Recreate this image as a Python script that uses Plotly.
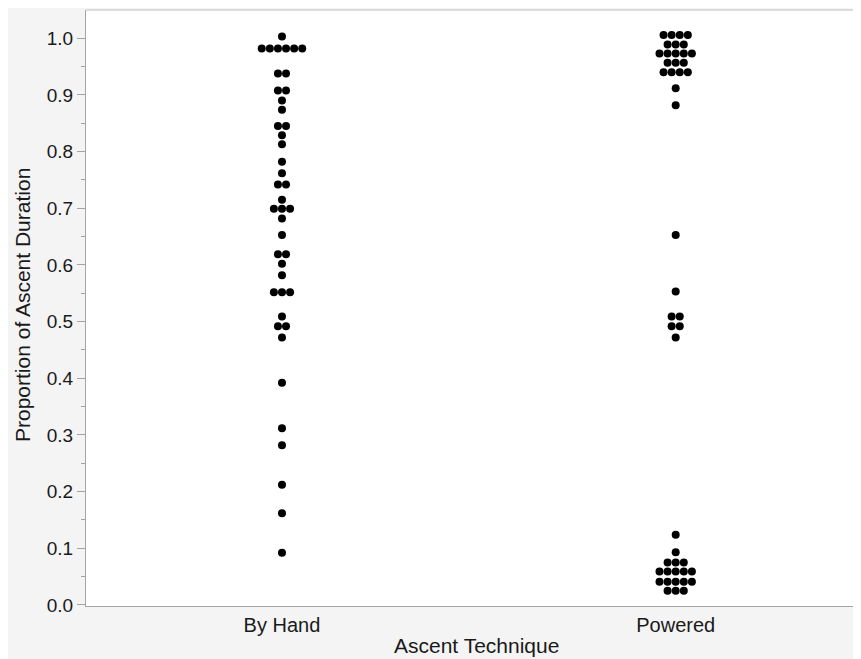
import plotly.graph_objects as go
from collections import Counter

categories = ["By Hand", "Powered"]

by_hand = [1.003,
           0.982, 0.982, 0.982, 0.982, 0.982, 0.982,
           0.938, 0.938, 0.908, 0.908, 0.890, 0.874,
           0.845, 0.845, 0.829, 0.813, 0.782, 0.762,
           0.742, 0.742, 0.715, 0.699, 0.699, 0.699, 0.682,
           0.653, 0.619, 0.619, 0.602, 0.582,
           0.552, 0.552, 0.552, 0.509, 0.492, 0.492, 0.472,
           0.392, 0.312, 0.282, 0.212, 0.162, 0.092]

powered = [1.006, 1.006, 1.006, 1.006,
           0.989, 0.989, 0.989,
           0.973, 0.973, 0.973, 0.973, 0.973,
           0.957, 0.957, 0.957,
           0.940, 0.940, 0.940, 0.940,
           0.912, 0.882, 0.653, 0.553,
           0.509, 0.509, 0.492, 0.492, 0.472,
           0.124, 0.093,
           0.075, 0.075, 0.075,
           0.059, 0.059, 0.059, 0.059, 0.059,
           0.041, 0.041, 0.041, 0.041, 0.041,
           0.025, 0.025, 0.025]

y_ticks = [0.0, 0.1, 0.2, 0.3, 0.4, 0.5, 0.6, 0.7, 0.8, 0.9, 1.0]

# layout geometry (figure pixels; the page adds an 8px body margin)
W, H = 853, 670
L, R, T = 78, 0, 2
ph = 596
B = H - T - ph
pw = W - L - R
x_range = [-0.4978, 1.4707]
y_range = [-0.0018, 1.0499]
unit_px = pw / (x_range[1] - x_range[0])
spacing = 8.1 / unit_px


def swarm(values, center):
    counts = Counter(values)
    seen = Counter()
    xs = []
    for v in values:
        n = counts[v]
        i = seen[v]
        seen[v] += 1
        xs.append(center + (i - (n - 1) / 2) * spacing)
    return xs


fig = go.Figure()
for idx, vals in enumerate([by_hand, powered]):
    fig.add_trace(go.Scatter(
        x=swarm(vals, idx), y=vals, mode="markers",
        marker=dict(color="black", size=8, line=dict(width=0)),
        showlegend=False, hoverinfo="y"))

font_family = "Liberation Sans, Arial, sans-serif"
txt = "#1a1a1a"
axc = "#a4a4a4"

fig.update_layout(
    width=W, height=H,
    margin=dict(l=L, r=R, t=T, b=B, pad=0),
    paper_bgcolor="#f4f4f4",
    plot_bgcolor="white",
    font=dict(family=font_family, size=19, color=txt),
    xaxis=dict(range=x_range, tickmode="array", tickvals=[0, 1], ticktext=categories,
               showgrid=False, zeroline=False, showline=True, linecolor=axc,
               linewidth=1, ticks="", ticklabelstandoff=1,
               tickfont=dict(size=20, color=txt)),
    yaxis=dict(range=y_range, tickmode="array", tickvals=y_ticks,
               ticktext=[f"{v:.1f}" for v in y_ticks],
               showgrid=False, zeroline=False, showline=True, linecolor=axc,
               linewidth=1, ticks="outside", ticklen=8, tickcolor=axc,
               tickfont=dict(size=19, color=txt),
               minor=dict(ticks="outside", ticklen=4, tickcolor=axc,
                          tickmode="array",
                          tickvals=[v + 0.05 for v in y_ticks[:-1]])),
    shapes=[
        dict(type="line", xref="paper", yref="paper",
             x0=0, x1=1, y0=1, y1=1, line=dict(color="#d2d2d2", width=1.5)),
    ],
    annotations=[
        dict(text="Proportion of Ascent Duration", xref="paper", yref="paper",
             x=(14 - L) / pw, y=(T + ph - 297) / ph, textangle=-90,
             showarrow=False, xanchor="center", yanchor="middle",
             font=dict(size=21, color=txt)),
        dict(text="Ascent Technique", xref="paper", yref="paper",
             x=(468.5 - L) / pw, y=-(637 - (T + ph)) / ph,
             showarrow=False, xanchor="center", yanchor="middle",
             font=dict(size=21, color=txt)),
    ],
)

fig.write_html("out.html")
